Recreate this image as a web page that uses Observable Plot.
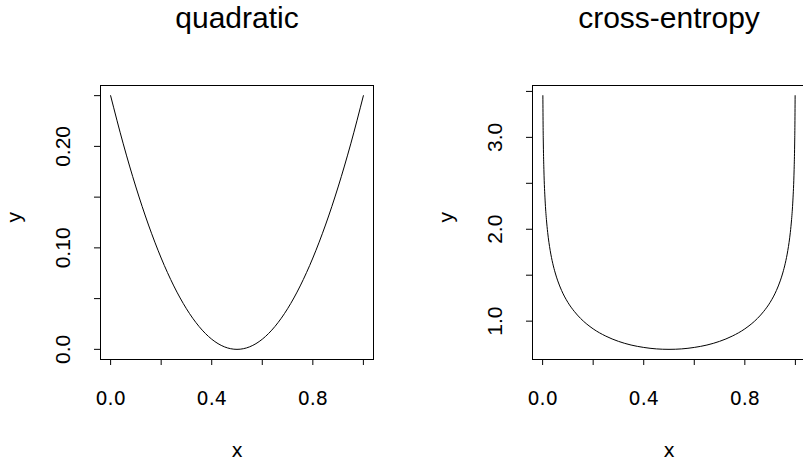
<!DOCTYPE html>
<html>
<head>
<meta charset="utf-8">
<script src="https://cdn.jsdelivr.net/npm/d3@7"></script>
<script src="https://cdn.jsdelivr.net/npm/@observablehq/plot@0.6"></script>
<style>
  html, body { margin: 0; padding: 0; background: #fff; overflow: hidden; }
  #wrap { display: flex; width: 805px; height: 460px; overflow: hidden; }
  svg { font-family: "Liberation Sans", Arial, sans-serif; overflow: visible; }
  g[aria-label="x-axis tick label"] text { font-family: "DejaVu Sans", sans-serif; }
</style>
</head>
<body>
<div id="wrap"></div>
<script>
// ---- data ----
const titles = ["quadratic", "cross-entropy"];
const axisLabelX = "x";
const axisLabelY = "y";

// quadratic panel
const quadX = [0, 0.05, 0.1, 0.15, 0.2, 0.25, 0.3, 0.35, 0.4, 0.45, 0.5, 0.55, 0.6, 0.65, 0.7, 0.75, 0.8, 0.85, 0.9, 0.95, 1];
const quadY = [0.25, 0.2025, 0.16, 0.1225, 0.09, 0.0625, 0.04, 0.0225, 0.01, 0.0025, 0, 0.0025, 0.01, 0.0225, 0.04, 0.0625, 0.09, 0.1225, 0.16, 0.2025, 0.25];

// cross-entropy panel
const ceX = [0.001, 0.002, 0.003, 0.005, 0.01, 0.015, 0.02, 0.03, 0.04, 0.05, 0.06, 0.075, 0.1, 0.125, 0.15, 0.2, 0.25, 0.3, 0.35, 0.4, 0.45, 0.5,
             0.55, 0.6, 0.65, 0.7, 0.75, 0.8, 0.85, 0.875, 0.9, 0.925, 0.94, 0.95, 0.96, 0.97, 0.98, 0.985, 0.99, 0.995, 0.997, 0.998, 0.999];
const ceY = [3.454, 3.108, 2.906, 2.652, 2.308, 2.108, 1.966, 1.769, 1.630, 1.524, 1.438, 1.334, 1.204, 1.107, 1.030, 0.916, 0.837, 0.780, 0.740, 0.714, 0.698, 0.693,
             0.698, 0.714, 0.740, 0.780, 0.837, 0.916, 1.030, 1.107, 1.204, 1.334, 1.438, 1.524, 1.630, 1.769, 1.966, 2.108, 2.308, 2.652, 2.906, 3.108, 3.454];

// ticks and tick labels
const xTicks = [0, 0.2, 0.4, 0.6, 0.8, 1.0];
const xTickLabels = ["0.0", "", "0.4", "", "0.8", ""];
const quadYTicks = [0, 0.05, 0.10, 0.15, 0.20, 0.25];
const quadYTickLabels = ["0.0", "", "0.10", "", "0.20", ""];
const ceYTicks = [1.0, 1.5, 2.0, 2.5, 3.0, 3.5];
const ceYTickLabels = ["1.0", "", "2.0", "", "3.0", ""];

function panel({xs, ys, yTicks, yTickLabels, title, width, marginLeft, marginRight}) {
  const data = xs.map((x, i) => ({x, y: ys[i]}));
  const yMin = d3.min(ys), yMax = d3.max(ys);
  const yPad = (yMax - yMin) * 0.04;
  const xPad = (1 - 0) * 0.04;
  return Plot.plot({
    width, height: 460,
    marginLeft, marginRight, marginTop: 85, marginBottom: 101,
    style: {fontSize: "20px", fontFamily: "Liberation Sans, Arial, sans-serif", color: "black", background: "white"},
    x: {domain: [0 - xPad, 1 + xPad]},
    y: {domain: [yMin - yPad, yMax + yPad]},
    marks: [
      Plot.frame({stroke: "black", strokeWidth: 1}),
      Plot.axisX({
        ticks: xTicks,
        tickFormat: (d) => xTickLabels[xTicks.indexOf(d)],
        tickSize: 6, tickPadding: 33,
        lineAnchor: "middle",
        fontSize: 19,
        label: null
      }),
      Plot.axisY({
        ticks: yTicks,
        tickFormat: (d) => yTickLabels[yTicks.indexOf(d)],
        tickSize: 6, tickPadding: 31,
        tickRotate: -90,
        textAnchor: "middle",
        lineAnchor: "middle",
        fontSize: 21,
        label: null
      }),
      Plot.line(data, {x: "x", y: "y", stroke: "black", strokeWidth: 1, curve: "monotone-x"}),
      Plot.text([title], {text: d => d, frameAnchor: "top", dy: -67, fontSize: 30, lineAnchor: "middle"}),
      Plot.text([axisLabelX], {text: d => d, frameAnchor: "bottom", dy: 91, fontSize: 19, fontFamily: "DejaVu Sans", lineAnchor: "middle"}),
      Plot.text([axisLabelY], {text: d => d, frameAnchor: "left", dx: -86, rotate: -90, fontSize: 21, lineAnchor: "middle"})
    ]
  });
}

const wrap = document.getElementById("wrap");
wrap.appendChild(panel({xs: quadX, ys: quadY, yTicks: quadYTicks, yTickLabels: quadYTickLabels, title: titles[0], width: 401, marginLeft: 100, marginRight: 28}));
wrap.appendChild(panel({xs: ceX, ys: ceY, yTicks: ceYTicks, yTickLabels: ceYTickLabels, title: titles[1], width: 404, marginLeft: 131, marginRight: 0}));
</script>
</body>
</html>
